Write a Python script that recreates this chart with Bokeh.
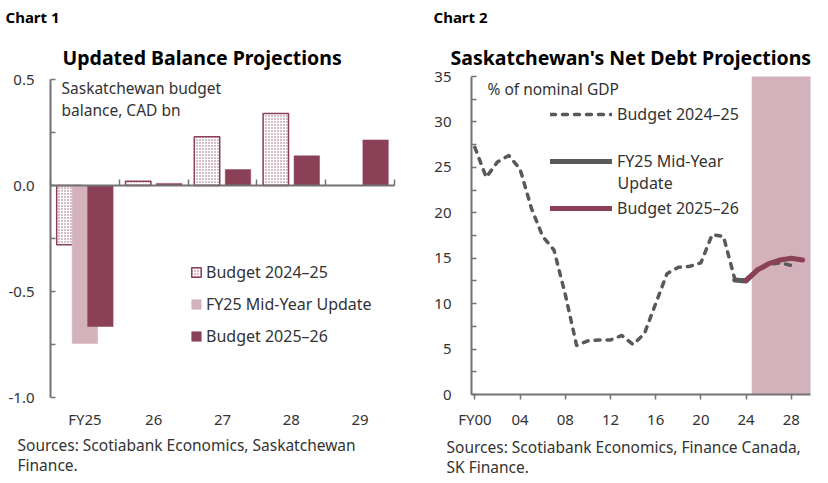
import numpy as np
from bokeh.plotting import figure
from bokeh.layouts import row
from bokeh.models import (ColumnDataSource, Range1d, FixedTicker, LinearAxis, Legend,
                          LegendItem, Label, BoxAnnotation, NumeralTickFormatter)
from bokeh.transform import dodge
from bokeh.embed import file_html
from bokeh.resources import INLINE

FONT = "Noto Sans"
MAROON = "#8A4157"
PINK = "#D4B2BC"
GRAY = "#595959"
AXIS = "#737373"
TXT = "#333333"

# ---------------- Chart 1 data ----------------
c1_categories = ["FY25", "26", "27", "28", "29"]
c1_budget_2024_25 = [-0.28, 0.02, 0.23, 0.34, np.nan]
c1_midyear_fy25 = [-0.745, np.nan, np.nan, np.nan, np.nan]
c1_budget_2025_26 = [-0.665, 0.01, 0.075, 0.14, 0.215]
c1_ymin, c1_ymax = -1.0, 0.5
c1_yticks = [-1.0, -0.5, 0.0, 0.5]
c1_yminor = [-0.75, -0.25, 0.25]

# ---------------- Chart 2 data ----------------
c2_years_b2425 = list(range(2000, 2029))
c2_budget_2024_25 = [27.2, 23.9, 25.6, 26.3, 24.8, 20.5, 17.4, 15.9, 11.0, 5.4,
                     5.9, 6.0, 6.0, 6.5, 5.5, 6.7, 10.0, 13.3, 14.0, 14.1,
                     14.5, 17.6, 17.4, 12.7, 12.6, 13.6, 14.3, 14.5, 14.2]
c2_years_midyear = [2023, 2024, 2025]
c2_midyear = [12.6, 12.5, 13.7]
c2_years_b2526 = [2024, 2025, 2026, 2027, 2028, 2029]
c2_budget_2025_26 = [12.6, 13.7, 14.4, 14.8, 15.0, 14.8]
c2_xmin, c2_xmax = 1999.7, 2029.7
c2_ymin, c2_ymax = 0, 35
c2_xticks = [2000, 2004, 2008, 2012, 2016, 2020, 2024, 2028]
c2_xtick_labels = ["FY00", "04", "08", "12", "16", "20", "24", "28"]
c2_yticks = [0, 5, 10, 15, 20, 25, 30, 35]
c2_yminor = [2.5, 7.5, 12.5, 17.5, 22.5, 27.5, 32.5]
c2_forecast_start = 2024.5

# ---------------- layout geometry (pixels) ----------------
H = 478
W1, W2 = 414, 412
LEFT2 = W1  # page x where chart 2 canvas starts


def ranges(lo, hi, p_lo, p_hi, size):
    """Extend a data interval [lo, hi] drawn between pixels p_lo..p_hi to a canvas of size px."""
    u = (hi - lo) / (p_hi - p_lo)
    return lo - p_lo * u, hi + (size - p_hi) * u


def base_fig(width, xr, yr):
    p = figure(width=width, height=H, x_range=Range1d(*xr), y_range=Range1d(*yr),
               output_backend="svg", toolbar_location=None, title=None,
               x_axis_type=None, y_axis_type=None,
               min_border_left=0, min_border_right=0, min_border_top=0, min_border_bottom=0)
    p.xgrid.visible = False
    p.ygrid.visible = False
    p.outline_line_color = None
    p.background_fill_color = "white"
    p.border_fill_color = "white"
    return p


def add_text(p, left, px, py, text, size="15.5px", bold=False, color=TXT):
    p.add_layout(Label(x=px - left, y=H - py, x_units="screen", y_units="screen", text=text,
                       text_font=FONT, text_font_size=size,
                       text_font_style="bold" if bold else "normal",
                       text_color=color, text_baseline="middle", text_align="left"))


def style_axis(ax, size="15px"):
    ax.axis_line_color = AXIS
    ax.axis_line_width = 2
    ax.major_tick_line_color = AXIS
    ax.minor_tick_line_color = AXIS
    ax.major_tick_line_width = 1.5
    ax.minor_tick_line_width = 1.5
    ax.major_label_text_font = FONT
    ax.major_label_text_font_size = size
    ax.major_label_text_color = TXT


# ================= Chart 1 =================
n = len(c1_categories)
xr1 = ranges(-0.5, n - 0.5, 50, 394, W1)
yr1 = ranges(c1_ymin, c1_ymax, H - 397, H - 79, H)
p1 = base_fig(W1, xr1, yr1)

src1 = ColumnDataSource(dict(x=list(range(n)), b2425=np.array(c1_budget_2024_25),
                             mid=np.array(c1_midyear_fy25), b2526=np.array(c1_budget_2025_26)))
bw = 0.37
r1 = p1.vbar(x=dodge("x", -0.225), top="b2425", bottom=0, width=bw, source=src1,
             fill_color="white", hatch_pattern="dot", hatch_color=MAROON, hatch_scale=3,
             hatch_weight=1, hatch_alpha=0.85, line_color=MAROON, line_width=1.5)
r2 = p1.vbar(x="x", top="mid", bottom=0, width=bw, source=src1,
             fill_color=PINK, line_color=PINK, line_width=0.5)
r3 = p1.vbar(x=dodge("x", 0.225), top="b2526", bottom=0, width=bw, source=src1,
             fill_color=MAROON, line_color=MAROON, line_width=0.5)

# y axis
ya = LinearAxis(fixed_location=-0.5, bounds=(c1_ymin, c1_ymax),
                ticker=FixedTicker(ticks=c1_yticks, minor_ticks=c1_yminor),
                formatter=NumeralTickFormatter(format="0.0"),
                major_tick_in=5, major_tick_out=0, minor_tick_in=5, minor_tick_out=0,
                major_label_standoff=16)
style_axis(ya, "15px")
p1.add_layout(ya, "left")

# zero line with category boundary ticks
ax0 = LinearAxis(fixed_location=0, bounds=(-0.5, n - 0.5),
                 ticker=FixedTicker(ticks=[i - 0.5 for i in range(n + 1)], minor_ticks=[]),
                 major_tick_in=6, major_tick_out=0, minor_tick_in=0, minor_tick_out=0)
style_axis(ax0)
ax0.major_label_text_color = None
p1.add_layout(ax0, "below")

# category labels at the bottom
xa = LinearAxis(fixed_location=c1_ymin, ticker=FixedTicker(ticks=list(range(n)), minor_ticks=[]),
                major_label_overrides={i: c for i, c in enumerate(c1_categories)},
                major_tick_in=0, major_tick_out=0, major_label_standoff=11)
style_axis(xa, "15px")
xa.axis_line_color = None
xa.major_tick_line_color = None
p1.add_layout(xa, "below")

leg1 = Legend(items=[LegendItem(label="Budget 2024–25", renderers=[r1]),
                     LegendItem(label="FY25 Mid-Year Update", renderers=[r2]),
                     LegendItem(label="Budget 2025–26", renderers=[r3])],
              location=(190, H - 347), orientation="vertical", border_line_color=None,
              background_fill_alpha=0, padding=0, margin=0, spacing=10,
              glyph_width=12, glyph_height=12, label_height=20, label_standoff=4,
              label_text_font=FONT, label_text_font_size="16px", label_text_color=TXT)
p1.add_layout(leg1)

add_text(p1, 0, 5, 16.5, "Chart 1", size="15px", bold=True, color="black")
add_text(p1, 0, 62, 57, "Updated Balance Projections", size="19.5px", bold=True, color="black")
add_text(p1, 0, 61, 87, "Saskatchewan budget")
add_text(p1, 0, 61, 109, "balance, CAD bn")
add_text(p1, 0, 17, 444, "Sources: Scotiabank Economics, Saskatchewan")
add_text(p1, 0, 17, 464, "Finance.")

# ================= Chart 2 =================
xr2 = ranges(c2_xmin, c2_xmax, 471 - LEFT2, 810 - LEFT2, W2)
yr2 = ranges(c2_ymin, c2_ymax, H - 394, H - 76, H)
p2 = base_fig(W2, xr2, yr2)

p2.add_layout(BoxAnnotation(left=c2_forecast_start, right=c2_xmax, bottom=c2_ymin, top=c2_ymax,
                            fill_color=PINK, fill_alpha=1, line_color=None, level="underlay"))

rd = p2.line(c2_years_b2425, c2_budget_2024_25, line_color=GRAY, line_width=3.5,
             line_dash="5 7", line_cap="round", line_join="round")
rm = p2.line(c2_years_midyear, c2_midyear, line_color=GRAY, line_width=5,
             line_cap="round", line_join="round")
rb = p2.line(c2_years_b2526, c2_budget_2025_26, line_color=MAROON, line_width=5,
             line_cap="round", line_join="round")

xb = LinearAxis(fixed_location=c2_ymin, bounds=(c2_xmin, c2_xmax),
                ticker=FixedTicker(ticks=c2_xticks, minor_ticks=[]),
                major_label_overrides=dict(zip(c2_xticks, c2_xtick_labels)),
                major_tick_in=0, major_tick_out=5, major_label_standoff=9)
style_axis(xb, "15px")
p2.add_layout(xb, "below")

yb = LinearAxis(fixed_location=c2_xmin, bounds=(c2_ymin, c2_ymax),
                ticker=FixedTicker(ticks=c2_yticks, minor_ticks=c2_yminor),
                major_tick_in=5, major_tick_out=0, minor_tick_in=5, minor_tick_out=0,
                major_label_standoff=20)
style_axis(yb, "15px")
p2.add_layout(yb, "left")

leg2 = Legend(items=[LegendItem(label="Budget 2024–25", renderers=[rd]),
                     LegendItem(label="FY25 Mid-Year", renderers=[rm]),
                     LegendItem(label="Budget 2025–26", renderers=[rb])],
              location=(550 - LEFT2, H - 219), orientation="vertical", border_line_color=None,
              background_fill_alpha=0, padding=0, margin=0, spacing=25,
              glyph_width=62, glyph_height=22, label_height=20, label_standoff=5,
              label_text_font=FONT, label_text_font_size="16px", label_text_color=TXT)
p2.add_layout(leg2)

add_text(p2, LEFT2, 617, 182, "Update", size="16px")
add_text(p2, LEFT2, 433, 16.5, "Chart 2", size="15px", bold=True, color="black")
add_text(p2, LEFT2, 450, 57, "Saskatchewan's Net Debt Projections", size="19.5px", bold=True, color="black")
add_text(p2, LEFT2, 487, 88, "% of nominal GDP")
add_text(p2, LEFT2, 446, 446, "Sources: Scotiabank Economics, Finance Canada,")
add_text(p2, LEFT2, 446, 466, "SK Finance.")

layout = row(p1, p2)
open("out.html", "w").write(file_html(layout, INLINE))
